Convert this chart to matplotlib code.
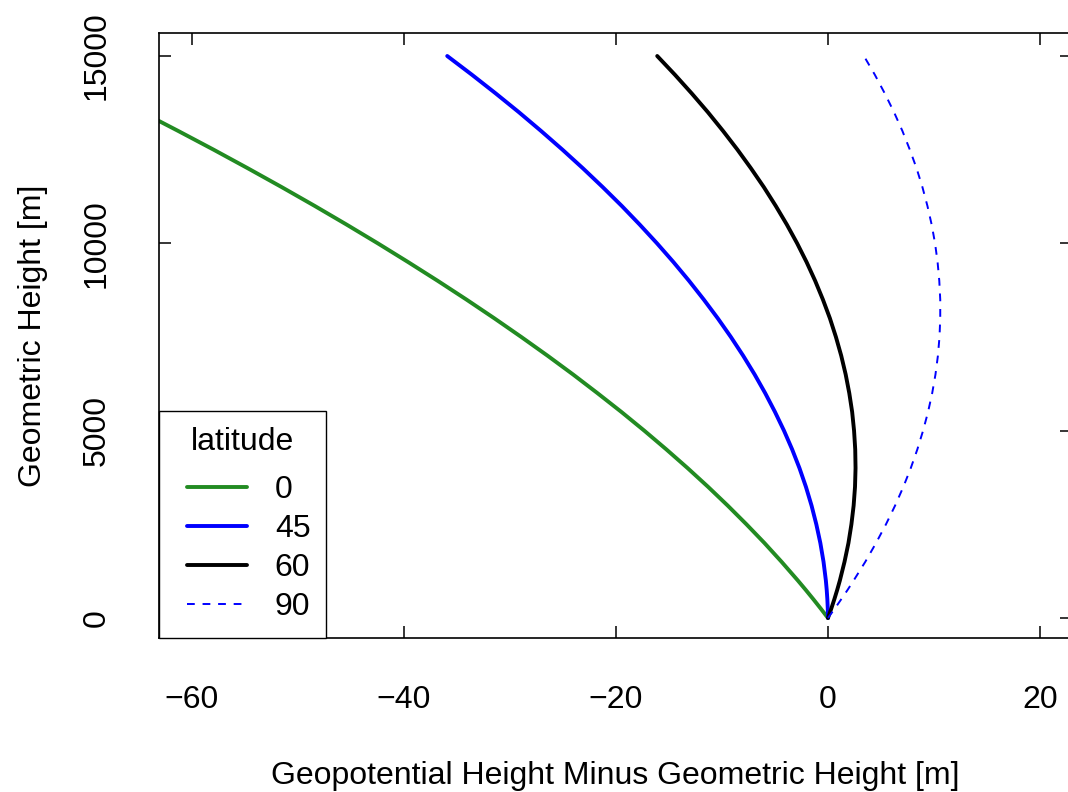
import numpy as np
import matplotlib
matplotlib.use('Agg')
import matplotlib.pyplot as plt
from matplotlib.lines import Line2D
from matplotlib.legend_handler import HandlerLine2D

plt.rcParams['font.family'] = ['Liberation Sans', 'DejaVu Sans']

# geometric height [m]
altura = [0, 250, 500, 750, 1000, 1500, 2000, 2500, 3000, 3500, 4000, 4500,
          5000, 5500, 6000, 6500, 7000, 7500, 8000, 8500, 9000, 9500, 10000,
          10500, 11000, 11500, 12000, 12500, 13000, 13500, 14000, 14500, 15000]

# geopotential minus geometric height [m], one list per latitude
dif_lat0 = [0.0, -0.68, -1.38, -2.10, -2.84, -4.38, -5.99, -7.69, -9.46,
            -11.31, -13.24, -15.25, -17.33, -19.49, -21.74, -24.05, -26.45,
            -28.93, -31.48, -34.11, -36.82, -39.61, -42.47, -45.41, -48.43,
            -51.53, -54.71, -57.96, -61.30, -64.71, -68.19, -71.76, -75.40]
dif_lat45 = [0.0, -0.02, -0.06, -0.12, -0.20, -0.42, -0.72, -1.10, -1.55,
             -2.08, -2.69, -3.38, -4.15, -5.00, -5.92, -6.92, -8.00,
             -9.16, -10.40, -11.72, -13.11, -14.58, -16.13, -17.76, -19.46,
             -21.25, -23.11, -25.05, -27.07, -29.16, -31.34, -33.59, -35.92]
dif_lat60 = [0.0, 0.31, 0.60, 0.87, 1.12, 1.56, 1.93, 2.21, 2.42,
             2.55, 2.60, 2.57, 2.46, 2.28, 2.01, 1.67, 1.25,
             0.75, 0.18, -0.48, -1.21, -2.02, -2.91, -3.88, -4.93,
             -6.05, -7.26, -8.54, -9.90, -11.33, -12.85, -14.44, -16.11]
dif_lat90 = [0.0, 0.64, 1.25, 1.85, 2.42, 3.52, 4.53, 5.47, 6.33,
             7.11, 7.81, 8.43, 8.97, 9.44, 9.83, 10.14, 10.37,
             10.52, 10.59, 10.59, 10.50, 10.34, 10.10, 9.78, 9.38,
             8.91, 8.36, 7.72, 7.02, 6.23, 5.36, 4.42, 3.39]

etiquetas = ['0', '45', '60', '90']

fig = plt.figure(figsize=(10.68, 7.92), dpi=100)
ax = fig.add_axes([159/1068, 154/792, 913/1068, 605/792])

estilo = dict(solid_joinstyle='round', solid_capstyle='round')
ax.plot(dif_lat0, altura, '-', color='#228B22', lw=2.8, label=etiquetas[0], **estilo)
ax.plot(dif_lat45, altura, '-', color='#0000FF', lw=2.8, label=etiquetas[1], **estilo)
ax.plot(dif_lat60, altura, '-', color='black', lw=2.8, label=etiquetas[2], **estilo)
ax.plot(dif_lat90, altura, color='#0000FF', lw=1.4, linestyle=(0, (4, 4)),
        label=etiquetas[3])

ax.set_xlim(-63.11, 23.02)
ax.set_ylim(-534, 15614)
ax.set_xticks([-60, -40, -20, 0, 20])
ax.set_yticks([0, 5000, 10000, 15000])

for s in ax.spines.values():
    s.set_linewidth(1.2)
ax.tick_params(direction='in', length=8.6, width=1.1, labelsize=23, pad=34,
               top=True, right=True)
for lab in ax.get_yticklabels():
    lab.set_rotation(90)
    lab.set_va('center')

ax.set_xlabel('Geopotential Height Minus Geometric Height [m]', fontsize=23, labelpad=33)
ax.set_ylabel('Geometric Height [m]', fontsize=23, labelpad=24)

leg = ax.legend(title='latitude', loc='lower left', borderaxespad=0,
                fancybox=False, edgecolor='black', fontsize=23,
                title_fontsize=23, handlelength=2.25, handletextpad=0.875,
                labelspacing=0.28, borderpad=0.5, framealpha=1,
                handler_map={Line2D: HandlerLine2D(xpad=0.375)})
leg.get_frame().set_linewidth(1.0)
leg._legend_box.sep = 13.2  # extra gap under the title

fig.savefig('out.png', dpi=100)
